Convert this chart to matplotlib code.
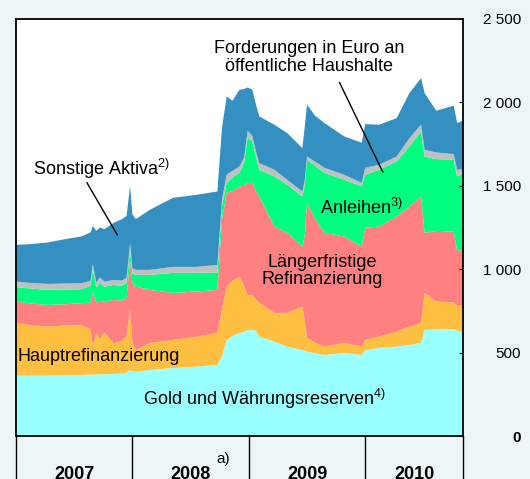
import numpy as np
import matplotlib.pyplot as plt
import matplotlib.transforms as mtransforms

plt.rcParams['font.family'] = ['Liberation Sans', 'DejaVu Sans']
plt.rcParams['mathtext.fontset'] = 'custom'
plt.rcParams['mathtext.rm'] = 'Liberation Sans'
plt.rcParams['mathtext.default'] = 'regular'

#%% data (EUR bn)

years = [2007.00, 2007.12, 2007.27, 2007.42, 2007.56, 2007.64, 2007.66, 2007.69,
         2007.72, 2007.76, 2007.84, 2007.91, 2007.95, 2007.98, 2008.00, 2008.03,
         2008.15, 2008.35, 2008.55, 2008.73, 2008.77, 2008.81, 2008.86, 2008.92,
         2008.96, 2008.99, 2009.03, 2009.06, 2009.09, 2009.22, 2009.33, 2009.46,
         2009.48, 2009.50, 2009.57, 2009.65, 2009.82, 2009.97, 2010.00, 2010.12,
         2010.27, 2010.38, 2010.48, 2010.51, 2010.61, 2010.76, 2010.79, 2010.84]

gold = [362, 362, 362, 364, 366, 368, 368, 368, 370, 370, 372, 374, 380, 396, 390, 386,
        396, 408, 416, 426, 480, 576, 600, 618, 625, 636, 636, 630, 596, 566, 536, 516,
        512, 506, 496, 486, 498, 486, 516, 528, 536, 546, 558, 636, 640, 640, 630, 625]

mro = [318, 303, 294, 298, 300, 272, 172, 252, 210, 250, 184, 196, 220, 360, 170, 130,
       162, 168, 180, 192, 280, 320, 330, 338, 275, 210, 210, 190, 202, 172, 202, 260,
       188, 82, 64, 50, 60, 50, 60, 68, 90, 110, 120, 222, 166, 160, 150, 161]

ltro = [126, 130, 130, 128, 130, 160, 320, 180, 230, 185, 260, 242, 230, 300, 360, 380,
        318, 282, 270, 258, 540, 562, 540, 540, 600, 672, 672, 650, 638, 518, 480, 360,
        500, 810, 740, 682, 638, 600, 672, 660, 690, 720, 758, 360, 424, 426, 330, 330]

bonds = [86, 90, 90, 88, 84, 100, 140, 90, 110, 90, 90, 88, 90, 60, 55, 70,
         90, 120, 112, 104, 80, 60, 80, 82, 140, 272, 248, 210, 160, 300, 288, 300,
         300, 258, 320, 360, 340, 360, 318, 340, 330, 360, 390, 458, 430, 430, 446, 454]

gov = [34, 33, 36, 36, 36, 30, 30, 30, 30, 30, 30, 32, 30, 42, 30, 30,
       30, 36, 36, 46, 40, 48, 40, 38, 30, 40, 34, 30, 40, 40, 30, 30,
       30, 20, 25, 30, 30, 22, 42, 30, 30, 50, 40, 40, 40, 34, 40, 30]

other = [220, 232, 248, 266, 280, 290, 230, 310, 300, 315, 342, 368, 370, 342, 325, 304,
         360, 414, 432, 440, 430, 470, 420, 460, 410, 260, 276, 280, 280, 270, 280, 260,
         320, 310, 275, 268, 230, 240, 262, 240, 230, 270, 280, 340, 250, 290, 280, 290]

year_edges = [2007, 2008, 2009, 2010, 2010.84]
year_labels = ['2007', '2008', '2009', '2010']
yticks = [0, 500, 1000, 1500, 2000, 2500]
ytick_labels = ['0', '500', '1 000', '1 500', '2 000', '2 500']

colours = ['#99FFFF', '#FFBF40', '#FF8080', '#00FF80', '#C0C0C0', '#3390C0']
bg = '#EDF5F8'

#%% plot

fig = plt.figure(figsize=(5.3, 4.79), dpi=100, facecolor=bg)
ax = fig.add_axes([16/530, 43/479, 447/530, 417/479])
ax.set_facecolor('white')

ax.stackplot(years, gold, mro, ltro, bonds, gov, other, colors=colours, linewidth=0)

ax.set_xlim(2007, 2010.84)
ax.set_ylim(0, 2500)
ax.set_xticks([])
ax.yaxis.tick_right()
ax.set_yticks(yticks)
ax.set_yticklabels(ytick_labels)
ax.tick_params(axis='y', direction='in', length=3, pad=42, labelsize=11)
for lab in ax.get_yticklabels():
    lab.set_ha('right')
ax.get_yticklabels()[0].set_fontweight('bold')
for s in ax.spines.values():
    s.set_linewidth(1.3)

# year boxes under the plot
trans = mtransforms.blended_transform_factory(ax.transData, ax.transAxes)
for e in year_edges:
    ax.plot([e, e], [0, -0.2], color='black', lw=1, transform=trans, clip_on=False)
for i, lab in enumerate(year_labels):
    mid = (year_edges[i] + year_edges[i+1]) / 2
    ax.text(mid, -0.092, lab, transform=trans, ha='center', va='center',
            fontsize=13, fontweight='bold')
ax.text(2008.78, -0.055, 'a)', transform=trans, ha='center', va='center', fontsize=11)

# labels
ax.text(2009.52, 2268, 'Forderungen in Euro an\nöffentliche Haushalte',
        ha='center', va='center', fontsize=13, linespacing=1.05)
ax.plot([2009.78, 2010.15], [2118, 1584], color='black', lw=1)
ax.text(2007.146, 1602, 'Sonstige Aktiva$^{2)}$', ha='left', va='center', fontsize=13)
ax.plot([2007.61, 2007.87], [1518, 1206], color='black', lw=1)
ax.text(2009.61, 1368, 'Anleihen$^{3)}$', ha='left', va='center', fontsize=13)
ax.text(2009.63, 990, 'Längerfristige\nRefinanzierung', ha='center', va='center',
        fontsize=13, linespacing=1.05)
ax.text(2007.017, 474, 'Hauptrefinanzierung', ha='left', va='center', fontsize=13)
ax.text(2008.09, 222, 'Gold und Währungsreserven$^{4)}$', ha='left', va='center', fontsize=13)

plt.savefig('out.png', dpi=100, facecolor=bg)
